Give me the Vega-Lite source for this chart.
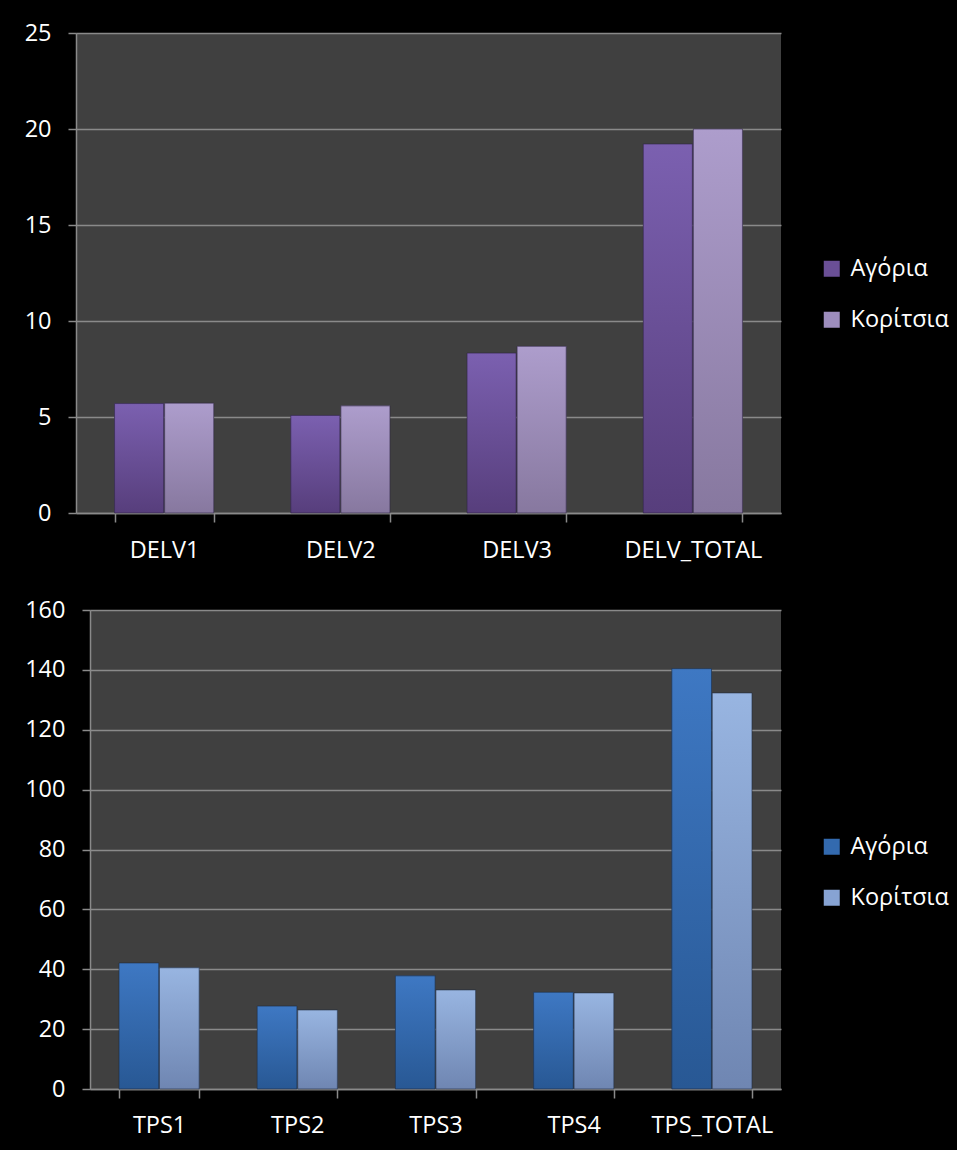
{
  "$schema": "https://vega.github.io/schema/vega-lite/v6.json",
  "background": "black",
  "padding": {"left": 0, "top": 21, "right": 14, "bottom": 14},
  "spacing": 36,
  "datasets": {
    "delv": [
      {"cat": "DELV1", "g": "Αγόρια", "v": 5.7},
      {"cat": "DELV1", "g": "Κορίτσια", "v": 5.72},
      {"cat": "DELV2", "g": "Αγόρια", "v": 5.08},
      {"cat": "DELV2", "g": "Κορίτσια", "v": 5.58},
      {"cat": "DELV3", "g": "Αγόρια", "v": 8.33},
      {"cat": "DELV3", "g": "Κορίτσια", "v": 8.68},
      {"cat": "DELV_TOTAL", "g": "Αγόρια", "v": 19.22},
      {"cat": "DELV_TOTAL", "g": "Κορίτσια", "v": 20.0}
    ],
    "tps": [
      {"cat": "TPS1", "g": "Αγόρια", "v": 42.1},
      {"cat": "TPS1", "g": "Κορίτσια", "v": 40.5},
      {"cat": "TPS2", "g": "Αγόρια", "v": 27.7},
      {"cat": "TPS2", "g": "Κορίτσια", "v": 26.4},
      {"cat": "TPS3", "g": "Αγόρια", "v": 37.8},
      {"cat": "TPS3", "g": "Κορίτσια", "v": 33.1},
      {"cat": "TPS4", "g": "Αγόρια", "v": 32.3},
      {"cat": "TPS4", "g": "Κορίτσια", "v": 32.1},
      {"cat": "TPS_TOTAL", "g": "Αγόρια", "v": 140.4},
      {"cat": "TPS_TOTAL", "g": "Κορίτσια", "v": 132.3}
    ],
    "spacer": [{"s": 0}]
  },
  "config": {
    "font": "Open Sans",
    "view": {"fill": "#404040", "stroke": null},
    "axis": {
      "labelFont": "Open Sans",
      "labelFontSize": 23.5,
      "labelColor": "#ffffff",
      "domainColor": "#8a8a8a",
      "tickColor": "#8a8a8a",
      "gridColor": "#8a8a8a",
      "domainWidth": 1.5,
      "tickWidth": 1.5,
      "gridWidth": 1.5,
      "title": null
    },
    "legend": {
      "labelFont": "Open Sans",
      "labelFontSize": 23.5,
      "labelColor": "#ffffff",
      "symbolType": "square",
      "symbolSize": 256,
      "symbolStrokeWidth": 0,
      "rowPadding": 26,
      "labelOffset": 7,
      "padding": 0
    }
  },
  "resolve": {"scale": {"x": "independent", "y": "independent", "color": "independent", "xOffset": "independent"}},
  "vconcat": [
    {
      "spacing": 0,
      "hconcat": [
        {
          "width": 24,
          "height": 10,
          "view": {"fill": null, "stroke": null},
          "data": {"name": "spacer"},
          "mark": {"type": "point", "opacity": 0, "size": 1},
          "encoding": {}
        },
        {
          "width": 705,
          "height": 480,
          "data": {"name": "delv"},
          "encoding": {
            "x": {"field": "cat", "type": "nominal", "sort": null, "scale": {"paddingInner": 0.4375, "paddingOuter": 0.21875},
                  "axis": {"labelAngle": 0, "tickBand": "extent", "tickSize": 9, "labelPadding": 16}},
            "xOffset": {"field": "g", "type": "nominal", "sort": null, "scale": {"paddingInner": 0.02}},
            "y": {"field": "v", "type": "quantitative", "scale": {"domain": [0, 25], "nice": false},
                  "axis": {"values": [0, 5, 10, 15, 20, 25], "tickSize": 8, "labelPadding": 17, "grid": true}}
          },
          "layer": [
            {
              "mark": {"type": "bar"},
              "encoding": {
                "color": {"field": "g", "type": "nominal", "sort": null,
                          "scale": {"domain": ["Αγόρια", "Κορίτσια"], "range": ["#6a4f96", "#9d8dbd"]},
                          "legend": {"title": null, "orient": "none", "legendX": 820, "legendY": 224}}
              }
            },
            {
              "mark": {"type": "bar", "stroke": "#2b2440", "strokeWidth": 0.6},
              "encoding": {
                "fill": {
                  "condition": {"test": "datum.g === 'Αγόρια'",
                    "value": {"gradient": "linear", "x1": 0, "y1": 0, "x2": 0, "y2": 1,
                              "stops": [{"offset": 0, "color": "#7b60b0"}, {"offset": 1, "color": "#573e7c"}]}},
                  "value": {"gradient": "linear", "x1": 0, "y1": 0, "x2": 0, "y2": 1,
                            "stops": [{"offset": 0, "color": "#ad9dcc"}, {"offset": 1, "color": "#87789f"}]}
                }
              }
            }
          ]
        }
      ]
    },
    {
      "spacing": 0,
      "hconcat": [
        {
          "width": 24,
          "height": 10,
          "view": {"fill": null, "stroke": null},
          "data": {"name": "spacer"},
          "mark": {"type": "point", "opacity": 0, "size": 1},
          "encoding": {}
        },
        {
          "width": 691,
          "height": 479,
          "data": {"name": "tps"},
          "encoding": {
            "x": {"field": "cat", "type": "nominal", "sort": null, "scale": {"paddingInner": 0.42, "paddingOuter": 0.21},
                  "axis": {"labelAngle": 0, "tickBand": "extent", "tickSize": 9, "labelPadding": 15}},
            "xOffset": {"field": "g", "type": "nominal", "sort": null, "scale": {"paddingInner": 0.02}},
            "y": {"field": "v", "type": "quantitative", "scale": {"domain": [0, 160], "nice": false},
                  "axis": {"values": [0, 20, 40, 60, 80, 100, 120, 140, 160], "tickSize": 8, "labelPadding": 17, "grid": true}}
          },
          "layer": [
            {
              "mark": {"type": "bar"},
              "encoding": {
                "color": {"field": "g", "type": "nominal", "sort": null,
                          "scale": {"domain": ["Αγόρια", "Κορίτσια"], "range": ["#336aaf", "#87a3d3"]},
                          "legend": {"title": null, "orient": "none", "legendX": 820, "legendY": 225}}
              }
            },
            {
              "mark": {"type": "bar", "stroke": "#1f2a3c", "strokeWidth": 0.6},
              "encoding": {
                "fill": {
                  "condition": {"test": "datum.g === 'Αγόρια'",
                    "value": {"gradient": "linear", "x1": 0, "y1": 0, "x2": 0, "y2": 1,
                              "stops": [{"offset": 0, "color": "#3e78c3"}, {"offset": 1, "color": "#285894"}]}},
                  "value": {"gradient": "linear", "x1": 0, "y1": 0, "x2": 0, "y2": 1,
                            "stops": [{"offset": 0, "color": "#98b5e1"}, {"offset": 1, "color": "#6f86b2"}]}
                }
              }
            }
          ]
        }
      ]
    }
  ]
}
